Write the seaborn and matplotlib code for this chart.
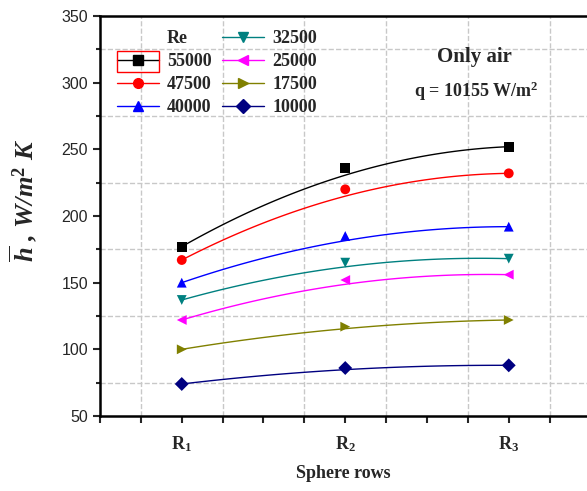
import numpy as np
import pandas as pd
import seaborn as sns
import matplotlib.pyplot as plt
from matplotlib.lines import Line2D
from matplotlib.patches import Rectangle

rows = [1, 2, 3]
row_labels = [r'$\mathbf{R_1}$', r'$\mathbf{R_2}$', r'$\mathbf{R_3}$']
re_values = ['55000', '47500', '40000', '32500', '25000', '17500', '10000']
h_55000 = [177, 236, 252]
h_47500 = [167, 220, 232]
h_40000 = [150, 185, 192]
h_32500 = [137, 165, 168]
h_25000 = [122, 152, 156]
h_17500 = [100, 117, 122]
h_10000 = [74, 86, 88]

colors = ['black', 'red', 'blue', '#008080', 'magenta', '#808000', '#000080']
markers = ['s', 'o', '^', 'v', '<', '>', 'D']

series = [h_55000, h_47500, h_40000, h_32500, h_25000, h_17500, h_10000]

pts = pd.DataFrame([(re, x, y) for re, ys in zip(re_values, series) for x, y in zip(rows, ys)],
                   columns=['Re', 'row', 'h'])

# smooth curve through the end points (origin-like spline)
t = np.linspace(0, 1, 60)
curve_rows = []
for re, ys in zip(re_values, series):
    y0, y1, y2 = ys
    bez = (1 - t) ** 2 * y0 + 2 * t * (1 - t) * y1 + t ** 2 * y2
    quad = np.polyval(np.polyfit(rows, ys, 2), 1 + 2 * t)
    for xx, yy in zip(1 + 2 * t, 0.5 * bez + 0.5 * quad):
        curve_rows.append((re, xx, yy))
curves = pd.DataFrame(curve_rows, columns=['Re', 'row', 'h'])

sns.set_style('white')
plt.rcParams['mathtext.fontset'] = 'custom'
plt.rcParams['mathtext.rm'] = 'Liberation Serif:bold'
plt.rcParams['mathtext.bf'] = 'Liberation Serif:bold'
plt.rcParams['mathtext.it'] = 'Liberation Serif:italic:bold'

fig = plt.figure(figsize=(5.87, 4.91), dpi=100)
ax = fig.add_axes([100 / 587, 1 - 416 / 491, 487 / 587, 400 / 491])

pal = dict(zip(re_values, colors))
sns.lineplot(data=curves, x='row', y='h', hue='Re', palette=pal, lw=1, legend=False, ax=ax)
sns.scatterplot(data=pts, x='row', y='h', hue='Re', style='Re', palette=pal,
                markers=dict(zip(re_values, markers)), s=50, edgecolor='none',
                legend=False, ax=ax, zorder=3)

ax.set_xlim(0.5, 0.5 + 487 / 163.5)
ax.set_ylim(50, 350)
ax.set_xticks(rows)
ax.set_xticklabels(row_labels, fontsize=13)
ax.set_xticks([v for v in np.arange(0.5, 3.5, 0.25) if v not in rows], minor=True)
ax.set_yticks(np.arange(50, 351, 50))
ax.set_yticks(np.arange(75, 350, 50), minor=True)
for lab in ax.get_yticklabels():
    lab.set_fontfamily('Liberation Sans')
    lab.set_fontsize(11.5)
ax.tick_params(axis='both', which='both', direction='out', length=5, width=1.5, left=True, bottom=True)
ax.tick_params(axis='y', which='minor', length=3)
ax.tick_params(axis='x', pad=8)

ax.grid(False)
ax.grid(which='minor', axis='y', color='#c8c8c8', ls='--', lw=1)
for xv in np.arange(0.75, 3.3, 0.5):
    ax.axvline(xv, color='#c8c8c8', ls='--', lw=1, zorder=0)

for s in ['left', 'bottom', 'top']:
    ax.spines[s].set_linewidth(1.8)
    ax.spines[s].set_color('black')
ax.spines['right'].set_visible(False)

ax.set_xlabel('Sphere rows', fontfamily='Liberation Serif', fontweight='bold', fontsize=13, labelpad=8)
ax.set_ylabel(r'$\overline{h}$ , W/m$^2$ K', fontfamily='Liberation Serif', fontweight='bold',
              fontstyle='italic', fontsize=19)
ax.yaxis.set_label_coords(-0.125, 0.54)

handles = [Line2D([], [], ls='none', label='Re')]
for re, c, m in zip(re_values, colors, markers):
    handles.append(Line2D([], [], color=c, marker=m, markersize=7, lw=1, label=re))
leg = ax.legend(handles=handles, ncol=2, loc='upper left', bbox_to_anchor=(0.002, 1.005),
                frameon=False, handlelength=2.3, handletextpad=0.45, columnspacing=0.6,
                labelspacing=0.33, prop={'family': 'Liberation Serif', 'weight': 'bold', 'size': 13})

fig.add_artist(Rectangle((117 / 587, 1 - 72 / 491), 42 / 587, 21 / 491,
                         transform=fig.transFigure, fill=False, ec='red', lw=1))

fig.text(474 / 587, 1 - 57 / 491, 'Only air', ha='center', va='center',
         fontfamily='Liberation Serif', fontweight='bold', fontsize=15)
fig.text(476 / 587, 1 - 91 / 491, r'q = 10155 W/m$^{2}$', ha='center', va='center',
         fontfamily='Liberation Serif', fontweight='bold', fontsize=13)

fig.savefig('out.png', dpi=100)
